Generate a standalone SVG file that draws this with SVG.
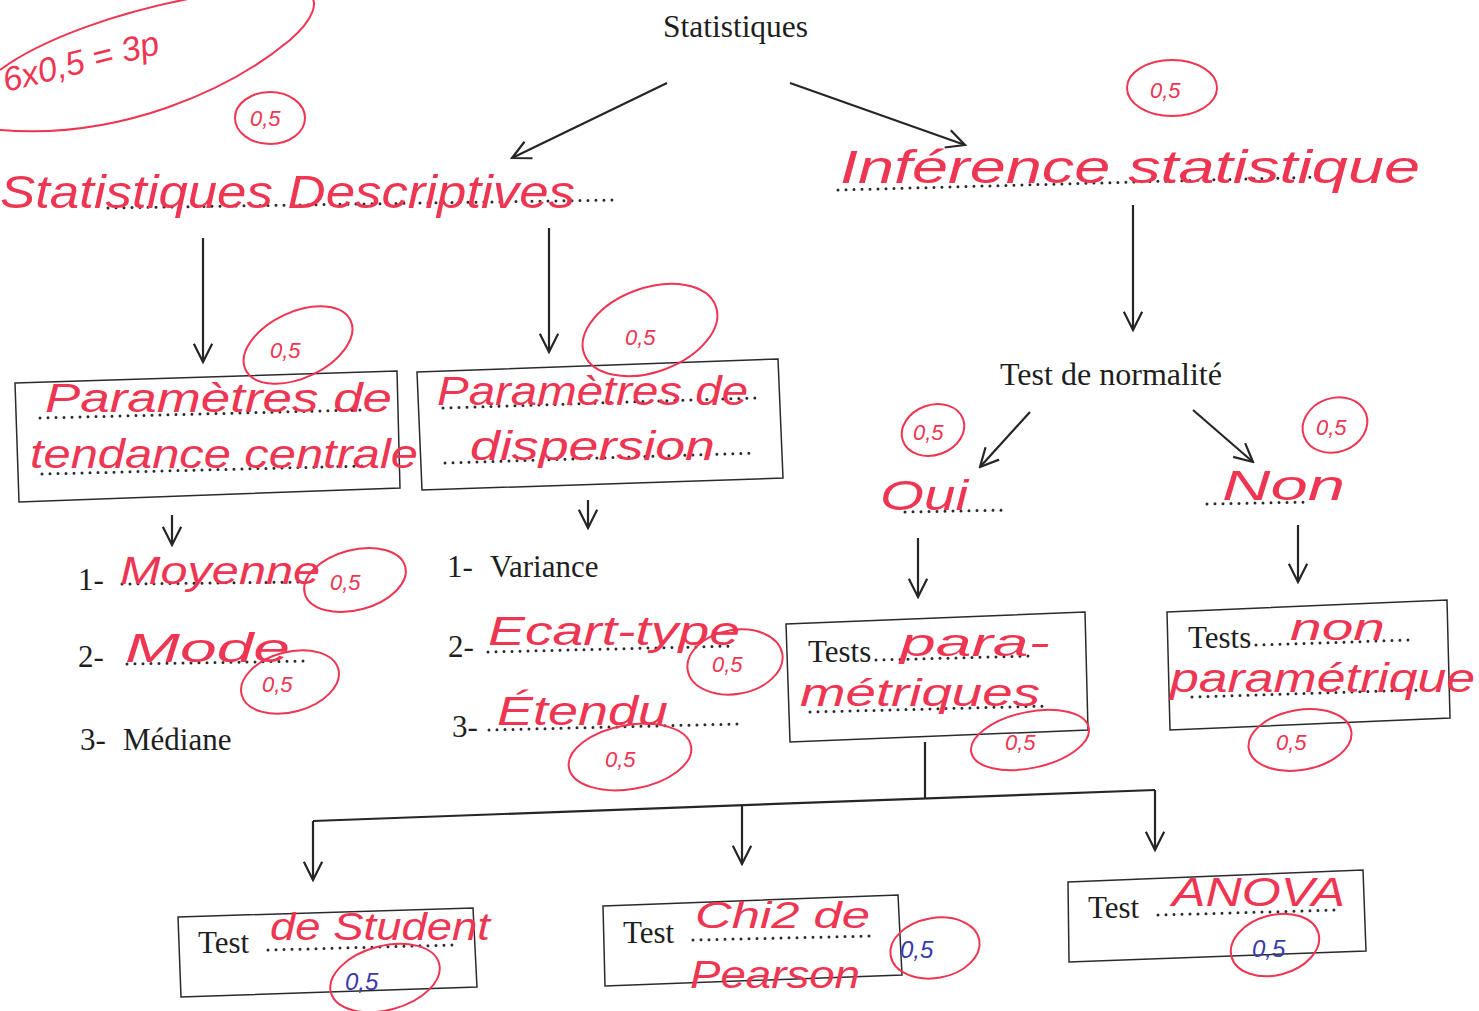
<svg xmlns="http://www.w3.org/2000/svg" width="1479" height="1011" viewBox="0 0 1479 1011">
<defs>
<marker id="vb" viewBox="0 0 12 12" refX="11" refY="6" markerWidth="22" markerHeight="22" markerUnits="userSpaceOnUse" orient="auto">
<path d="M1,1 L11,6 L1,11" fill="none" stroke="#262626" stroke-width="1.2"/>
</marker>
</defs>
<style>
.p{font-family:"Liberation Serif","Times New Roman",serif;font-size:31px;fill:#1e1e1e}
.h{font-family:"Liberation Sans",Arial,sans-serif;font-style:italic;fill:#ee3552}
.s{font-family:"Liberation Sans",Arial,sans-serif;font-style:italic;font-size:22px;fill:#ee3552}
.sb{font-family:"Liberation Sans",Arial,sans-serif;font-style:italic;font-size:24px;fill:#3a3aa8}
.c{fill:none;stroke:#ee3552;stroke-width:2}
.dot{fill:none;stroke:#2a2a2a;stroke-width:3;stroke-linecap:round;stroke-dasharray:0 8}
.box{fill:none;stroke:#2a2a2a;stroke-width:1.5}
.ln{fill:none;stroke:#262626;stroke-width:2.2}
</style>
<rect width="1479" height="1011" fill="#ffffff"/>

<!-- top-left grade note -->
<g id="grade">
<path class="c" d="M0,130 C120,140 230,90 290,40 C315,18 318,2 310,-5"/>
<path class="c" d="M0,70 C40,40 120,10 210,-5"/>
<text class="h" font-size="34" transform="rotate(-14 6 92)" x="6" y="92">6x0,5 = 3p</text>
</g>

<g id="connectors">
<line class="ln" x1="667" y1="83" x2="512" y2="158" marker-end="url(#vb)"/>
<line class="ln" x1="790" y1="83" x2="965" y2="145" marker-end="url(#vb)"/>
<line class="ln" x1="203" y1="238" x2="203" y2="362" marker-end="url(#vb)"/>
<line class="ln" x1="549" y1="228" x2="549" y2="352" marker-end="url(#vb)"/>
<line class="ln" x1="1133" y1="205" x2="1133" y2="330" marker-end="url(#vb)"/>
<line class="ln" x1="172" y1="515" x2="172" y2="545" marker-end="url(#vb)"/>
<line class="ln" x1="588" y1="500" x2="588" y2="528" marker-end="url(#vb)"/>
<line class="ln" x1="1030" y1="412" x2="980" y2="467" marker-end="url(#vb)"/>
<line class="ln" x1="1193" y1="410" x2="1253" y2="462" marker-end="url(#vb)"/>
<line class="ln" x1="918" y1="538" x2="918" y2="597" marker-end="url(#vb)"/>
<line class="ln" x1="1298" y1="525" x2="1298" y2="582" marker-end="url(#vb)"/>
<line class="ln" x1="925" y1="742" x2="925" y2="798"/>
<line class="ln" x1="313" y1="821" x2="1155" y2="790"/>
<line class="ln" x1="313" y1="821" x2="313" y2="880" marker-end="url(#vb)"/>
<line class="ln" x1="742" y1="806" x2="742" y2="864" marker-end="url(#vb)"/>
<line class="ln" x1="1155" y1="790" x2="1155" y2="850" marker-end="url(#vb)"/>
</g>

<g id="root">
<text class="p" x="663" y="37" textLength="145" lengthAdjust="spacingAndGlyphs">Statistiques</text>
</g>

<g id="descriptives">
<line class="dot" x1="108" y1="208" x2="612" y2="200"/>
<text class="h" font-size="46" x="0" y="208" textLength="575" lengthAdjust="spacingAndGlyphs">Statistiques Descriptives</text>
<ellipse class="c" cx="270" cy="118" rx="35" ry="26"/>
<text class="s" x="250" y="126">0,5</text>
</g>

<g id="inference">
<line class="dot" x1="838" y1="190" x2="1320" y2="177"/>
<text class="h" font-size="46" x="840" y="183" textLength="580" lengthAdjust="spacingAndGlyphs">Inférence statistique</text>
<ellipse class="c" cx="1172" cy="88" rx="45" ry="28"/>
<text class="s" x="1150" y="98">0,5</text>
</g>

<g id="tendance">
<polygon class="box" points="15,383 397,371 400,488 19,502"/>
<line class="dot" x1="40" y1="418" x2="360" y2="410"/>
<line class="dot" x1="42" y1="474" x2="362" y2="466"/>
<text class="h" font-size="40" x="45" y="412" textLength="347" lengthAdjust="spacingAndGlyphs">Paramètres de</text>
<text class="h" font-size="40" x="30" y="468" textLength="388" lengthAdjust="spacingAndGlyphs">tendance centrale</text>
<ellipse class="c" cx="298" cy="345" rx="58" ry="33" transform="rotate(-25 298 345)"/>
<text class="s" x="270" y="358">0,5</text>
</g>

<g id="dispersion">
<polygon class="box" points="417,372 778,359 783,478 422,490"/>
<line class="dot" x1="443" y1="408" x2="755" y2="398"/>
<line class="dot" x1="445" y1="463" x2="756" y2="453"/>
<text class="h" font-size="40" x="437" y="405" textLength="311" lengthAdjust="spacingAndGlyphs">Paramètres de</text>
<text class="h" font-size="40" x="470" y="460" textLength="245" lengthAdjust="spacingAndGlyphs">dispersion</text>
<ellipse class="c" cx="650" cy="330" rx="70" ry="42" transform="rotate(-20 650 330)"/>
<text class="s" x="625" y="345">0,5</text>
</g>

<g id="tendance-list">
<text class="p" x="78" y="590">1-</text>
<line class="dot" x1="122" y1="584" x2="305" y2="582"/>
<text class="h" font-size="38" x="120" y="584" textLength="200" lengthAdjust="spacingAndGlyphs">Moyenne</text>
<ellipse class="c" cx="355" cy="580" rx="52" ry="30" transform="rotate(-15 355 580)"/>
<text class="s" x="330" y="590">0,5</text>
<text class="p" x="78" y="667">2-</text>
<line class="dot" x1="127" y1="664" x2="308" y2="661"/>
<text class="h" font-size="40" x="125" y="662" textLength="165" lengthAdjust="spacingAndGlyphs">Mode</text>
<ellipse class="c" cx="290" cy="682" rx="50" ry="30" transform="rotate(-15 290 682)"/>
<text class="s" x="262" y="692">0,5</text>
<text class="p" y="750"><tspan x="80">3-</tspan><tspan x="123">Médiane</tspan></text>
</g>

<g id="dispersion-list">
<text class="p" y="577"><tspan x="447">1-</tspan><tspan x="490">Variance</tspan></text>
<text class="p" x="448" y="657">2-</text>
<line class="dot" x1="488" y1="652" x2="735" y2="646"/>
<text class="h" font-size="40" x="488" y="645" textLength="252" lengthAdjust="spacingAndGlyphs">Ecart-type</text>
<ellipse class="c" cx="735" cy="662" rx="48" ry="32" transform="rotate(-10 735 662)"/>
<text class="s" x="712" y="672">0,5</text>
<text class="p" x="452" y="737">3-</text>
<line class="dot" x1="489" y1="730" x2="737" y2="724"/>
<text class="h" font-size="40" x="497" y="725" textLength="171" lengthAdjust="spacingAndGlyphs">Étendu</text>
<ellipse class="c" cx="630" cy="757" rx="62" ry="32" transform="rotate(-10 630 757)"/>
<text class="s" x="605" y="767">0,5</text>
</g>

<g id="normalite">
<text class="p" x="1000" y="385" textLength="222" lengthAdjust="spacingAndGlyphs">Test de normalité</text>
</g>

<g id="oui">
<line class="dot" x1="905" y1="512" x2="1008" y2="510"/>
<text class="h" font-size="42" x="880" y="510" textLength="88" lengthAdjust="spacingAndGlyphs">Oui</text>
<ellipse class="c" cx="933" cy="430" rx="32" ry="25" transform="rotate(-20 933 430)"/>
<text class="s" x="913" y="440">0,5</text>
</g>

<g id="non">
<line class="dot" x1="1207" y1="504" x2="1310" y2="502"/>
<text class="h" font-size="42" x="1222" y="500" textLength="123" lengthAdjust="spacingAndGlyphs">Non</text>
<ellipse class="c" cx="1335" cy="425" rx="33" ry="27" transform="rotate(-20 1335 425)"/>
<text class="s" x="1316" y="435">0,5</text>
</g>

<g id="parametriques">
<polygon class="box" points="786,624 1085,612 1088,730 790,742"/>
<text class="p" x="808" y="662">Tests</text>
<line class="dot" x1="876" y1="660" x2="1030" y2="656"/>
<line class="dot" x1="810" y1="712" x2="1048" y2="706"/>
<text class="h" font-size="38" x="900" y="656" textLength="150" lengthAdjust="spacingAndGlyphs">para-</text>
<text class="h" font-size="38" x="800" y="706" textLength="240" lengthAdjust="spacingAndGlyphs">métriques</text>
<ellipse class="c" cx="1030" cy="740" rx="60" ry="28" transform="rotate(-12 1030 740)"/>
<text class="s" x="1005" y="750">0,5</text>
</g>

<g id="non-parametriques">
<polygon class="box" points="1167,612 1447,600 1450,718 1170,730"/>
<text class="p" x="1188" y="648">Tests</text>
<line class="dot" x1="1256" y1="645" x2="1410" y2="640"/>
<line class="dot" x1="1192" y1="697" x2="1420" y2="690"/>
<text class="h" font-size="36" x="1290" y="640" textLength="95" lengthAdjust="spacingAndGlyphs">non</text>
<text class="h" font-size="40" x="1170" y="692" textLength="305" lengthAdjust="spacingAndGlyphs">paramétrique</text>
<ellipse class="c" cx="1300" cy="740" rx="52" ry="30" transform="rotate(-10 1300 740)"/>
<text class="s" x="1276" y="750">0,5</text>
</g>

<g id="student">
<polygon class="box" points="178,917 473,908 477,987 181,997"/>
<text class="p" x="198" y="953">Test</text>
<line class="dot" x1="268" y1="950" x2="452" y2="945"/>
<text class="h" font-size="38" x="270" y="940" textLength="220" lengthAdjust="spacingAndGlyphs">de Student</text>
<ellipse class="c" cx="385" cy="978" rx="56" ry="32" transform="rotate(-15 385 978)"/>
<text class="sb" x="345" y="990">0,5</text>
</g>

<g id="chi2">
<polygon class="box" points="603,906 898,895 902,975 605,986"/>
<text class="p" x="623" y="943">Test</text>
<line class="dot" x1="693" y1="940" x2="873" y2="936"/>
<text class="h" font-size="36" x="695" y="928" textLength="175" lengthAdjust="spacingAndGlyphs">Chi2 de</text>
<text class="h" font-size="38" x="690" y="988" textLength="170" lengthAdjust="spacingAndGlyphs">Pearson</text>
<ellipse class="c" cx="935" cy="948" rx="45" ry="30" transform="rotate(-10 935 948)"/>
<text class="sb" x="900" y="958">0,5</text>
</g>

<g id="anova">
<polygon class="box" points="1068,882 1363,870 1366,951 1069,962"/>
<text class="p" x="1088" y="918">Test</text>
<line class="dot" x1="1158" y1="915" x2="1338" y2="910"/>
<text class="h" font-size="40" x="1172" y="906" textLength="173" lengthAdjust="spacingAndGlyphs">ANOVA</text>
<ellipse class="c" cx="1275" cy="945" rx="45" ry="30" transform="rotate(-15 1275 945)"/>
<text class="sb" x="1252" y="957">0,5</text>
</g>
</svg>
